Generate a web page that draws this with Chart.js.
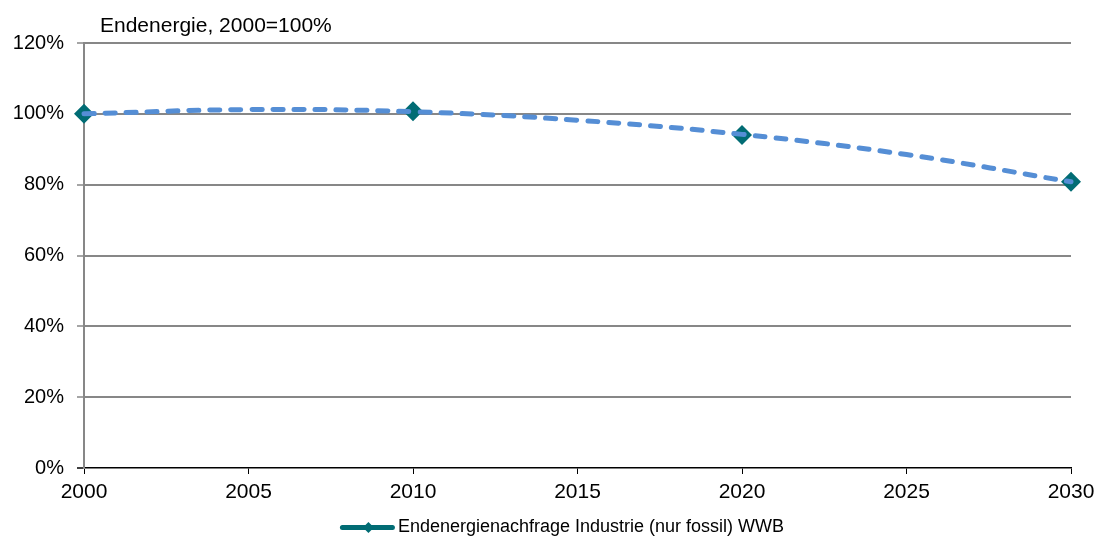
<!DOCTYPE html>
<html>
<head>
<meta charset="utf-8">
<script src="https://cdn.jsdelivr.net/npm/chart.js@4.4.1/dist/chart.umd.min.js"></script>
<style>
  html, body { margin: 0; padding: 0; background: #ffffff; }
  #wrap { width: 1098px; height: 540px; position: relative; }
</style>
</head>
<body>
<div id="wrap"><canvas id="chart"></canvas></div>
<script>
// Final energy demand of industry (fossil only), index 2000 = 100 %
const yearsObserved = [2000, 2010, 2020, 2030];
const demandIndex   = [100.0, 100.7, 94.0, 80.8];

// Smoothed trend curve through the scenario points
const trendYears = [2000, 2005, 2010, 2015, 2020, 2025, 2030];
const trendIndex = [100.0, 101.2, 100.6, 98.2, 94.2, 88.5, 80.8];

// Axis ticks
const yTickValues = [0, 20, 40, 60, 80, 100, 120];
const xTickValues = [2000, 2005, 2010, 2015, 2020, 2025, 2030];

const unitLabel   = 'Endenergie, 2000=100%';
const seriesLabel = 'Endenergienachfrage Industrie (nur fossil) WWB';

const TEAL  = '#016C74';
const BLUE  = '#558ED5';
const GRID  = '#878787';
const FONT  = "'Liberation Sans', Arial, sans-serif";
const LEGEND_FONT = { family: FONT, size: 18 };
const LEGEND_SYMBOL_W = 55;

const unitLabelPlugin = {
  id: 'unitLabel',
  afterDraw(chart) {
    const ctx = chart.ctx;
    ctx.save();
    ctx.font = '21px ' + FONT;
    ctx.fillStyle = '#000';
    ctx.textAlign = 'left';
    ctx.textBaseline = 'alphabetic';
    ctx.fillText(unitLabel, 100, 32);
    ctx.restore();
  }
};

// Line-with-diamond symbol in the legend, centred in the legend row
const legendSymbolPlugin = {
  id: 'legendSymbol',
  afterLayout(chart) {
    const lg = chart.legend;
    if (lg) { lg.left -= 31; }
  },
  afterDraw(chart) {
    const lg = chart.legend;
    if (!lg || !lg.legendHitBoxes || !lg.legendHitBoxes.length) return;
    const hb = lg.legendHitBoxes[0];
    const x0 = hb.left;
    const cy = hb.top + LEGEND_FONT.size / 2 + 0.5;
    const ctx = chart.ctx;
    ctx.save();
    ctx.strokeStyle = TEAL;
    ctx.lineWidth = 5;
    ctx.lineCap = 'round';
    ctx.beginPath();
    ctx.moveTo(x0 + 2.5, cy);
    ctx.lineTo(x0 + LEGEND_SYMBOL_W - 2.5, cy);
    ctx.stroke();
    const cx = x0 + LEGEND_SYMBOL_W / 2 + 1;
    const r = 5.5;
    ctx.fillStyle = TEAL;
    ctx.beginPath();
    ctx.moveTo(cx - r, cy);
    ctx.lineTo(cx, cy - r);
    ctx.lineTo(cx + r, cy);
    ctx.lineTo(cx, cy + r);
    ctx.closePath();
    ctx.fill();
    ctx.restore();
  }
};

new Chart(document.getElementById('chart'), {
  type: 'line',
  data: {
    datasets: [
      {
        label: 'Trend',
        data: trendYears.map((x, i) => ({ x, y: trendIndex[i] })),
        borderColor: BLUE,
        borderWidth: 5,
        borderDash: [10, 11],
        borderCapStyle: 'round',
        pointRadius: 0,
        tension: 0.4,
        fill: false,
        clip: false,
        order: 0
      },
      {
        label: seriesLabel,
        data: yearsObserved.map((x, i) => ({ x, y: demandIndex[i] })),
        showLine: false,
        pointStyle: 'rectRot',
        pointRadius: 10,
        pointHoverRadius: 10,
        backgroundColor: TEAL,
        borderColor: TEAL,
        borderWidth: 0,
        clip: false,
        order: 1
      }
    ]
  },
  options: {
    responsive: true,
    maintainAspectRatio: false,
    devicePixelRatio: 1,
    animation: false,
    events: [],
    layout: { padding: { left: 0, right: 27, top: 43, bottom: -6 } },
    scales: {
      x: {
        type: 'linear',
        position: 'bottom',
        min: 2000,
        max: 2030,
        afterBuildTicks: s => { s.ticks = xTickValues.map(v => ({ value: v })); },
        afterFit: s => { s.height = 46; s.paddingLeft = 0; s.paddingRight = 0; },
        ticks: {
          callback: v => String(v),
          font: { family: FONT, size: 21 },
          color: '#000',
          padding: 6,
          maxRotation: 0,
          autoSkip: false
        },
        grid: {
          drawOnChartArea: false,
          drawTicks: true,
          tickLength: 6,
          tickColor: '#000',
          tickWidth: 1
        },
        border: { display: true, color: '#000', width: 1.5 }
      },
      y: {
        position: 'left',
        min: 0,
        max: 120,
        afterBuildTicks: s => { s.ticks = yTickValues.map(v => ({ value: v })); },
        afterFit: s => { s.width = 84; },
        ticks: {
          callback: v => v + '%',
          font: { family: FONT, size: 20 },
          color: '#000',
          padding: 13
        },
        grid: {
          color: c => (c.tick && c.tick.value === 0) ? 'rgba(0,0,0,0)' : GRID,
          lineWidth: 2,
          drawTicks: true,
          tickLength: 7,
          tickColor: c => (c.tick && c.tick.value === 0) ? '#000' : GRID,
          tickWidth: 1.5
        },
        border: { display: true, color: GRID, width: 2 }
      }
    },
    plugins: {
      title: { display: false },
      tooltip: { enabled: false },
      legend: {
        display: true,
        position: 'bottom',
        fullSize: false,
        labels: {
          font: LEGEND_FONT,
          color: '#000',
          boxWidth: LEGEND_SYMBOL_W - 6,
          boxHeight: 5,
          padding: 4,
          generateLabels: () => [{
            text: seriesLabel,
            fillStyle: 'rgba(0,0,0,0)',
            strokeStyle: 'rgba(0,0,0,0)',
            lineWidth: 0,
            hidden: false,
            datasetIndex: 1,
            fontColor: '#000'
          }]
        }
      }
    }
  },
  plugins: [unitLabelPlugin, legendSymbolPlugin]
});
</script>
</body>
</html>
